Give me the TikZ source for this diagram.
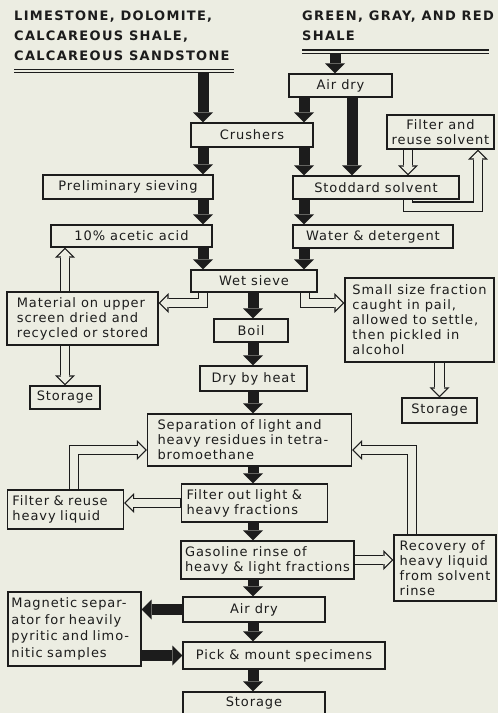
\documentclass[tikz,border=0pt]{standalone}
\usepackage{fontspec}
\setmainfont{DejaVu Sans}[LetterSpace=7]
\newfontfamily\capsfont{DejaVu Sans}[LetterSpace=10]
\usetikzlibrary{arrows.meta}

\definecolor{paper}{RGB}{236,237,226}
\definecolor{ink}{RGB}{28,28,28}

\begin{document}
\begin{tikzpicture}[x=1pt, y=-1pt,
    box/.style={draw=ink, line width=1.2pt, fill=paper, text=ink, align=left,
      inner sep=2pt, minimum height=23pt, font=\fontsize{13}{15}\selectfont},
    hdr/.style={text=ink, align=left, inner sep=0pt,
      font=\capsfont\bfseries\fontsize{13}{20}\selectfont},
    blk/.style={draw=ink, line width=11pt,
      -{Triangle[width=20pt, length=10pt, line width'=0pt]}},
    hol/.style={draw=ink, line width=10.5pt,
      -{Triangle[width=20pt, length=10pt, line width'=0pt]},
      postaction={draw=paper, line width=8.1pt, shorten <=0.8pt, shorten >=1.7pt,
        -{Triangle[width=14.2pt, length=7.1pt, line width'=0pt]}}}]
        \fill[paper] (0,0) rectangle (498,713);
        \useasboundingbox (0,0) rectangle (498,713);

        % the two kinds of rock
        \node[hdr, anchor=north west] (lime) at (14,11) {LIMESTONE, DOLOMITE,\\CALCAREOUS SHALE,\\CALCAREOUS SANDSTONE};
        \node[hdr, anchor=north west] (shale) at (302,11) {GREEN, GRAY, AND RED\\SHALE};
        \draw[ink, line width=1.6pt] (14,69.5) -- (234,69.5);
        \draw[ink, line width=0.8pt] (14,72.5) -- (234,72.5);
        \draw[ink, line width=1.6pt] (302,50) -- (489,50);
        \draw[ink, line width=0.8pt] (302,53) -- (489,53);
        \coordinate (limeA) at (203,73);
        \coordinate (shaleA) at (335,54);

        % columns of the straight arrows
        \coordinate (cL) at (203,0);
        \coordinate (cR) at (304,0);
        \coordinate (cS) at (352,0);
        \coordinate (cM) at (253,0);
        \coordinate (cH) at (408,0);
        \coordinate (cQ) at (65,0);

        \node[box, minimum width=103pt] (airA) at (340.5,85.5) {Air dry};
        \node[box, minimum width=122pt, minimum height=24pt] (crush) at (252,135) {Crushers};
        \node[box, minimum width=107pt, minimum height=34pt, align=center] (fsolv) at (440.5,132) {Filter and\\reuse solvent};
        \node[box, minimum width=170pt, minimum height=24pt] (prelim) at (128,187) {Preliminary sieving};
        \node[box, minimum width=166pt] (stod) at (376,187.5) {Stoddard solvent};
        \node[box, minimum width=161pt, minimum height=22pt] (acetic) at (131.5,236) {10\% acetic acid};
        \node[box, minimum width=160pt] (water) at (373,236.5) {Water \& detergent};
        \node[box, minimum width=126pt, minimum height=22pt] (wet) at (254,281) {Wet sieve};
        \node[box, minimum width=151pt, minimum height=53pt] (mat) at (82.5,318.5) {Material on upper\\screen dried and\\recycled or stored};
        \node[box, minimum width=149pt, minimum height=84pt] (small) at (419.5,320) {Small size fraction\\caught in pail,\\allowed to settle,\\then pickled in\\alcohol};
        \node[box, minimum width=74pt] (boil) at (251,330.5) {Boil};
        \node[box, minimum width=107pt, minimum height=25pt] (dry) at (253.5,378.5) {Dry by heat};
        \node[box, minimum width=70pt] (storeL) at (65,397.5) {Storage};
        \node[box, minimum width=75pt, minimum height=25pt] (storeR) at (439.5,410.5) {Storage};
        \node[box, inner xsep=10pt, text width=184pt, minimum height=52pt] (separ) at (249.5,440) {Separation of light and\\heavy residues in tetra-\\bromoethane};
        \node[box, inner xsep=5pt, text width=106pt, minimum height=39pt] (fheavy) at (65.5,509.5) {Filter \& reuse\\heavy liquid};
        \node[box, inner xsep=5pt, text width=136pt, minimum height=38pt] (fout) at (254.5,503) {Filter out light \&\\heavy fractions};
        \node[box, minimum width=173pt, minimum height=38pt] (gas) at (267.5,560) {Gasoline rinse of\\heavy \& light fractions};
        \node[box, minimum width=102pt, minimum height=66pt] (recov) at (445,568) {Recovery of\\heavy liquid\\from solvent\\rinse};
        \node[box, inner xsep=3.5pt, text width=126pt, minimum height=74pt, font=\fontsize{13}{16.5}\selectfont] (magnet) at (74.5,629) {Magnetic separ-\\ator for heavily\\pyritic and limo-\\nitic samples};
        \node[box, minimum width=142pt, minimum height=25pt] (airB) at (254,609.5) {Air dry};
        \node[box, minimum width=202pt, minimum height=27pt] (pick) at (284,655.5) {Pick \& mount specimens};
        \node[box, minimum width=142pt, minimum height=22pt] (storeB) at (254,703) {Storage};

        % main flow
        \draw[blk] (limeA) -- (crush.north -| limeA);
        \draw[blk] (shaleA) -- (airA.north -| shaleA);
        \draw[blk] (airA.south -| cR) -- (crush.north -| cR);
        \draw[blk] (airA.south -| cS) -- (stod.north -| cS);
        \draw[blk] (crush.south -| cL) -- (prelim.north -| cL);
        \draw[blk] (crush.south -| cR) -- (stod.north -| cR);
        \draw[blk] (prelim.south -| cL) -- (acetic.north -| cL);
        \draw[blk] (acetic.south -| cL) -- (wet.north -| cL);
        \draw[blk] (stod.south -| cR) -- (water.north -| cR);
        \draw[blk] (water.south -| cR) -- (wet.north -| cR);
        \draw[blk] (wet.south -| cM) -- (boil.north -| cM);
        \draw[blk] (boil.south -| cM) -- (dry.north -| cM);
        \draw[blk] (dry.south -| cM) -- (separ.north -| cM);
        \draw[blk] (separ.south -| cM) -- (fout.north -| cM);
        \draw[blk] (fout.south -| cM) -- (gas.north -| cM);
        \draw[blk] (gas.south -| cM) -- (airB.north -| cM);
        \draw[blk] (airB.south -| cM) -- (pick.north -| cM);
        \draw[blk] (pick.south -| cM) -- (storeB.north -| cM);
        \draw[blk] (airB.west) -- (airB.west -| magnet.east);
        \draw[blk] (magnet.east |- pick.west) -- (pick.west);

        % side loops
        \draw[hol] (fsolv.south -| cH) -- (stod.north -| cH);
        \draw[hol] (stod.south -| cH) -- ++(0,7) -| ([xshift=37.5pt]fsolv.south);
        \draw[hol] ([xshift=-51pt]wet.south) |- ([yshift=15.5pt]mat.east);
        \draw[hol] ([xshift=51pt]wet.south) |- ([yshift=17pt]small.west);
        \draw[hol] (mat.north -| cQ) -- (acetic.south -| cQ);
        \draw[hol] (mat.south -| cQ) -- (storeL.north -| cQ);
        \draw[hol] (small.south -| storeR.north) -- (storeR.north);
        \draw[hol] (fout.west) -- (fout.west -| fheavy.east);
        \draw[hol] ([xshift=8.5pt]fheavy.north) |- ([yshift=-10pt]separ.west);
        \draw[hol] (gas.east) -- (gas.east -| recov.west);
        \draw[hol] ([xshift=-33pt]recov.north) |- ([yshift=-10pt]separ.east);
    \end{tikzpicture}
\end{document}
